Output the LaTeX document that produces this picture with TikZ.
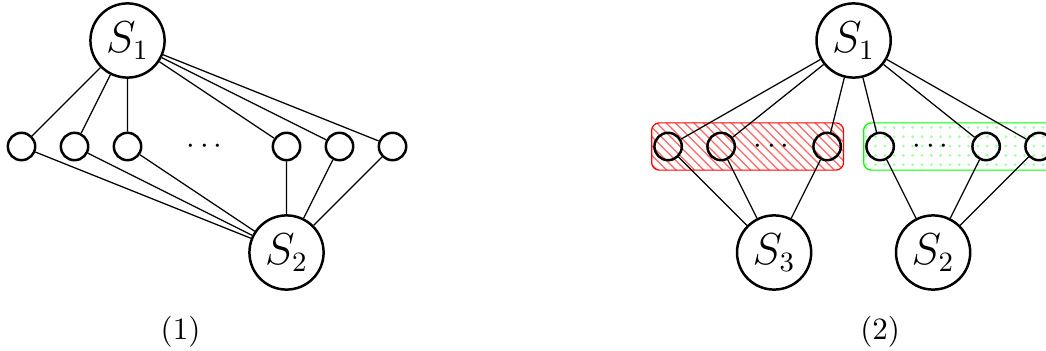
\documentclass[tikz,border=0pt]{standalone}
\usepackage{amsmath}
\usetikzlibrary{patterns,fit,backgrounds}

\begin{document}
\begin{tikzpicture}[x=0.6cm, y=0.6cm,
    bignode/.style={circle, draw, thick, minimum size=0.84cm, inner sep=0pt, font=\fontsize{13.5}{16}\selectfont},
    smallnode/.style={circle, draw, thick, minimum size=0.31cm, inner sep=0pt},
    groupbox/.style={draw, rounded corners=2.5pt, inner xsep=0.5pt, inner ysep=2.8pt}]
    \useasboundingbox (-0.406,-3.858) rectangle (19.33,2.764);

    % Graph (1)
    \node[bignode] (s1) at (2,2) {$S_1$};
    \node[bignode] (s2) at (5,-2) {$S_2$};
    \foreach \x/\name in {0/a, 1/b, 2/c, 5/d, 6/e, 7/f}
        \node[smallnode] (\name) at (\x,0) {};
    \node (dotsa) at (3.5,0) {$\cdots$};
    \foreach \name in {a,b,c,d,e,f}
        \draw (s1) -- (\name) (s2) -- (\name);
    \node (lab1) at (3,-3.5) {(1)};

    % Graph (2)
    \begin{scope}[xshift=7.32cm]
        \node[bignode] (t1) at (3.5,2) {$S_1$};
        \node[bignode] (t3) at (2,-2) {$S_3$};
        \node[bignode] (t2) at (5,-2) {$S_2$};
        \foreach \x/\name in {0/p, 1/q, 3/r, 4/u, 6/v, 7/w}
            \node[smallnode] (\name) at (\x,0) {};
        \node (dotsb) at (2,0) {$\cdots$};
        \node (dotsc) at (5,0) {$\cdots$};

        % Groups behind the nodes
        \begin{scope}[on background layer]
            \node[groupbox, draw=red, pattern=north west lines, pattern color=red!60, fit=(p)(r)] (redgroup) {};
            \node[groupbox, draw=green, pattern=dots, pattern color=green!35, fit=(u)(w)] (greengroup) {};
        \end{scope}

        \foreach \name in {p,q,r,u,v,w}
            \draw (t1) -- (\name);
        \foreach \name in {p,q,r}
            \draw (t3) -- (\name);
        \foreach \name in {u,v,w}
            \draw (t2) -- (\name);
        \node (lab2) at (4,-3.5) {(2)};
    \end{scope}
\end{tikzpicture}
\end{document}
